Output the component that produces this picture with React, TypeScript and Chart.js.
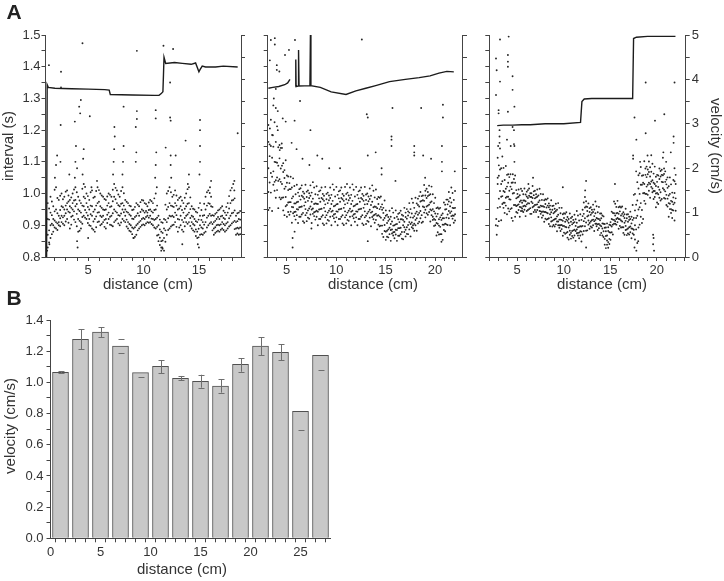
import React, { useEffect, useRef } from 'react';
import { Chart, registerables } from 'chart.js';

Chart.register(...registerables);

// ---------------- Panel A data ----------------
// Scatter: interval (s) vs distance (cm). Columns of 4 readings each (two interleaved sets) + isolated points (x,y pairs)
const p1ColX = [1.35,1.6,1.85,2.1,2.35,2.6,2.85,3.1,3.35,3.6,3.85,4.1,4.35,4.6,4.85,5.1,5.35,5.6,5.85,6.1,6.35,6.6,6.85,7.1,7.35,7.6,7.85,8.1,8.35,8.6,8.85,9.1,9.35,9.6,9.85,10.1,10.35,10.6,10.85,11.1,11.35,11.6,11.85,12.1,12.35,12.6,12.85,13.1,13.35,13.6,13.85,14.1,14.35,14.6,14.85,15.1,15.35,15.6,15.85,16.1,16.35,16.6,16.85,17.1,17.35,17.6,17.85,18.1,18.35,18.6];
const p1ColY = [
0.97,0.92,0.87,0.83, 0.99,0.94,0.90,0.86, 0.96,0.92,0.90,0.88, 1.02,0.95,0.91,0.89, 0.98,0.93,0.91,0.90,
1.00,0.96,0.93,0.91, 0.99,0.95,0.93,0.90, 1.01,0.97,0.95,0.92, 0.98,0.96,0.94,0.89, 1.00,0.97,0.95,0.93,
1.02,0.98,0.96,0.91, 0.99,0.95,0.92,0.88, 0.97,0.94,0.91,0.89, 1.03,0.99,0.96,0.93, 1.00,0.97,0.94,0.92,
0.98,0.95,0.92,0.90, 1.01,0.96,0.93,0.89, 0.99,0.95,0.92,0.88, 1.02,0.97,0.94,0.91, 1.00,0.96,0.93,0.90,
0.99,0.95,0.93,0.91, 0.98,0.95,0.92,0.89, 1.00,0.97,0.94,0.92, 0.99,0.96,0.93,0.90, 1.03,0.99,0.95,0.91,
1.01,0.97,0.94,0.92, 0.99,0.96,0.93,0.90, 1.02,0.97,0.95,0.92, 0.98,0.95,0.93,0.91, 0.97,0.94,0.91,0.89,
0.96,0.93,0.90,0.88, 0.95,0.92,0.89,0.86, 0.97,0.93,0.90,0.87, 0.96,0.93,0.91,0.89, 0.98,0.95,0.92,0.90,
0.97,0.94,0.92,0.90, 0.96,0.94,0.93,0.91, 0.98,0.95,0.93,0.91, 0.97,0.94,0.92,0.90, 1.00,0.95,0.92,0.89,
0.93,0.90,0.87,0.85, 0.91,0.88,0.85,0.83, 0.92,0.89,0.86,0.82, 1.00,0.95,0.91,0.87, 1.02,0.97,0.93,0.89,
0.99,0.96,0.93,0.90, 1.01,0.97,0.94,0.91, 0.98,0.95,0.92,0.88, 0.99,0.96,0.93,0.90, 0.97,0.94,0.91,0.88,
1.00,0.96,0.93,0.91, 1.02,0.97,0.94,0.91, 0.96,0.93,0.91,0.89, 0.95,0.92,0.90,0.88, 0.94,0.91,0.88,0.86,
0.97,0.93,0.90,0.87, 0.93,0.91,0.89,0.87, 0.99,0.95,0.91,0.88, 1.01,0.97,0.93,0.90, 0.99,0.96,0.93,0.91,
0.93,0.91,0.89,0.87, 0.94,0.92,0.90,0.88, 0.95,0.92,0.90,0.88, 0.96,0.93,0.91,0.89, 0.94,0.92,0.90,0.88,
0.97,0.94,0.91,0.89, 1.01,0.97,0.93,0.90, 1.03,0.98,0.94,0.91, 0.93,0.91,0.89,0.87, 0.94,0.92,0.89,0.87
];
const p1ColX2 = [1.475,1.725,1.975,2.225,2.475,2.725,2.975,3.225,3.475,3.725,3.975,4.225,4.475,4.725,4.975,5.225,5.475,5.725,5.975,6.225,6.475,6.725,6.975,7.225,7.475,7.725,7.975,8.225,8.475,8.725,8.975,9.225,9.475,9.725,9.975,10.225,10.475,10.725,10.975,11.225,11.475,11.725,11.975,12.225,12.475,12.725,12.975,13.225,13.475,13.725,13.975,14.225,14.475,14.725,14.975,15.225,15.475,15.725,15.975,16.225,16.475,16.725,16.975,17.225,17.475,17.725,17.975,18.225,18.475,18.725];
const p1ColY2 = [
0.953,0.918,0.884,0.846, 0.975,0.932,0.905,0.872, 1.012,0.944,0.915,0.893, 0.986,0.938,0.906,0.885, 0.993,0.948,0.922,0.897,
0.982,0.957,0.925,0.905, 1.006,0.962,0.938,0.912, 0.994,0.975,0.943,0.908, 0.988,0.955,0.927,0.902, 1.013,0.978,0.944,0.918,
1.004,0.967,0.936,0.897, 0.978,0.945,0.914,0.883, 1.015,0.962,0.926,0.905, 1.021,0.985,0.948,0.924, 0.992,0.958,0.931,0.907,
1.004,0.962,0.935,0.898, 0.987,0.943,0.912,0.886, 1.008,0.962,0.928,0.894, 1.011,0.974,0.941,0.912, 0.994,0.955,0.926,0.904,
0.983,0.948,0.917,0.895, 0.991,0.962,0.933,0.907, 0.996,0.958,0.927,0.902, 1.012,0.976,0.938,0.897, 1.018,0.982,0.944,0.915,
0.997,0.963,0.932,0.906, 1.008,0.968,0.937,0.909, 1.001,0.962,0.941,0.914, 0.974,0.943,0.918,0.896, 0.962,0.934,0.904,0.883,
0.948,0.921,0.893,0.872, 0.958,0.926,0.894,0.864, 0.965,0.938,0.905,0.884, 0.973,0.942,0.914,0.895, 0.978,0.946,0.923,0.903,
0.967,0.945,0.926,0.906, 0.972,0.948,0.924,0.908, 0.976,0.944,0.921,0.904, 0.985,0.948,0.917,0.893, 0.962,0.924,0.895,0.868,
0.918,0.887,0.861,0.838, 0.908,0.876,0.852,0.826, 0.965,0.917,0.884,0.848, 1.008,0.958,0.922,0.885, 1.004,0.962,0.928,0.896,
0.996,0.958,0.926,0.902, 0.994,0.962,0.932,0.895, 0.986,0.953,0.918,0.893, 0.978,0.948,0.917,0.886, 0.987,0.952,0.923,0.897,
1.014,0.968,0.934,0.905, 0.988,0.951,0.923,0.898, 0.952,0.927,0.904,0.884, 0.943,0.913,0.887,0.866, 0.955,0.918,0.889,0.862,
0.948,0.917,0.893,0.872, 0.968,0.932,0.902,0.876, 1.004,0.962,0.924,0.893, 1.002,0.968,0.936,0.906, 0.958,0.932,0.904,0.884,
0.936,0.914,0.894,0.876, 0.947,0.926,0.902,0.883, 0.955,0.928,0.903,0.886, 0.946,0.923,0.904,0.885, 0.958,0.932,0.906,0.884,
0.992,0.953,0.922,0.896, 1.018,0.978,0.938,0.906, 0.985,0.947,0.914,0.888, 0.938,0.913,0.892,0.874, 0.945,0.918,0.893,0.872
];
const p1Extra = [
1.46,1.405, 2.55,1.384, 4.49,1.474, 9.4,1.45, 11.8,1.466, 12.67,1.456,
2.55,1.335, 4.34,1.295, 4.19,1.274, 4.28,1.253, 3.8,1.227, 2.52,1.216, 5.15,1.244, 7.37,1.21, 8.2,1.274,
9.4,1.26, 9.4,1.235, 9.3,1.21, 11.1,1.263, 11.1,1.237, 12.4,1.35, 12.4,1.24, 12.45,1.23, 13.8,1.167,
15.1,1.232, 15.1,1.2, 18.5,1.19,
2.0,1.05, 2.1,1.09, 2.2,1.12, 2.5,1.10, 3.3,1.06, 3.8,1.05, 3.85,1.10, 3.9,1.15, 4.0,1.08, 4.5,1.06,
4.55,1.11, 4.6,1.14, 5.3,1.02, 5.8,1.04, 7.25,1.06, 7.3,1.10, 7.35,1.14, 7.4,1.18, 8.1,1.06, 8.15,1.10,
8.2,1.15, 9.3,1.10, 9.35,1.13, 11.05,1.05, 11.1,1.09, 11.15,1.13, 11.2,1.02, 12.0,1.145, 12.45,1.12,
12.45,1.09, 12.9,1.12, 12.5,1.05, 14.0,1.03, 14.1,1.06, 15.05,1.06, 15.1,1.10, 15.1,1.15, 16.0,1.02,
16.1,1.04, 18.2,1.04, 18.2,1.01,
1.3,0.82, 1.5,0.84, 4.0,0.85, 4.05,0.83, 9.1,0.86, 11.6,0.82, 11.7,0.83, 13.5,0.84, 15.0,0.83, 14.9,0.84, 5.0,0.86
];
// Line: velocity (cm/s)
const p1LineX = [1.25,1.3,1.4,2.0,3.5,5.0,6.5,6.9,7.0,9.0,11.0,11.4,11.6,11.75,11.8,11.85,12.0,12.8,13.5,14.3,14.7,15.0,15.1,15.3,15.6,16.5,17.2,18.5];
const p1LineV = [0,3.88,3.82,3.80,3.79,3.78,3.77,3.76,3.66,3.65,3.64,3.64,3.68,3.72,4.10,4.50,4.36,4.38,4.36,4.34,4.37,4.17,4.22,4.30,4.28,4.28,4.30,4.28];

const p2ColX = [3.15,3.4,3.65,3.9,4.15,4.4,4.65,4.9,5.15,5.4,5.65,5.9,6.15,6.4,6.65,6.9,7.15,7.4,7.65,7.9,8.15,8.4,8.65,8.9,9.15,9.4,9.65,9.9,10.15,10.4,10.65,10.9,11.15,11.4,11.65,11.9,12.15,12.4,12.65,12.9,13.15,13.4,13.65,13.9,14.15,14.4,14.65,14.9,15.15,15.4,15.65,15.9,16.15,16.4,16.65,16.9,17.15,17.4,17.65,17.9,18.15,18.4,18.65,18.9,19.15,19.4,19.65,19.9,20.15,20.4,20.65,20.9,21.15,21.4,21.65,21.9];
const p2ColY = [
1.163,1.080,1.005,0.948, 1.150,1.065,1.003,1.233, 1.278,1.148,1.070,1.028, 0.987,1.099,1.163,1.042, 1.146,1.040,1.088,0.954,
1.079,1.144,0.982,1.037, 0.988,1.068,0.947,1.096, 1.022,0.960,1.105,0.989, 1.054,1.011,0.972,0.942, 1.014,0.973,0.943,1.053,
1.048,0.991,0.957,0.938, 0.918,0.969,0.998,0.943, 1.003,0.950,0.974,0.907, 0.981,1.017,0.927,0.958, 0.939,0.989,0.913,1.006,
0.973,0.932,1.028,0.951, 1.010,0.977,0.947,0.924, 0.993,0.959,0.934,1.026, 1.036,0.984,0.953,0.936, 0.918,0.969,0.998,0.943,
0.996,0.943,0.967,0.900, 0.974,1.010,0.920,0.951, 0.932,0.982,0.906,0.999, 0.966,0.925,1.021,0.944, 1.003,0.970,0.940,0.917,
0.986,0.952,0.927,1.019, 1.029,0.977,0.946,0.929, 0.911,0.962,0.991,0.936, 0.996,0.943,0.967,0.900, 0.974,1.010,0.920,0.951,
0.932,0.982,0.906,0.999, 0.966,0.925,1.021,0.944, 1.003,0.970,0.940,0.917, 0.986,0.952,0.927,1.019, 1.029,0.977,0.946,0.929,
0.911,0.962,0.991,0.936, 0.996,0.943,0.967,0.900, 0.974,1.010,0.920,0.951, 0.932,0.982,0.906,0.999, 0.966,0.925,1.021,0.944,
1.000,0.967,0.937,0.914, 0.983,0.949,0.924,1.016, 1.026,0.974,0.943,0.926, 0.908,0.959,0.988,0.933, 0.983,0.930,0.954,0.887,
0.951,0.987,0.897,0.928, 0.899,0.949,0.873,0.966, 0.923,0.882,0.978,0.901, 0.933,0.907,0.883,0.864, 0.919,0.892,0.872,0.946,
0.954,0.912,0.887,0.874, 0.859,0.900,0.923,0.879, 0.927,0.885,0.904,0.851, 0.910,0.939,0.867,0.891, 0.879,0.919,0.858,0.933,
0.911,0.879,0.955,0.894, 0.951,0.921,0.894,0.873, 0.940,0.910,0.887,0.970, 0.984,0.937,0.909,0.894, 0.883,0.929,0.955,0.905,
0.969,0.922,0.943,0.883, 0.959,0.992,0.911,0.939, 0.932,0.977,0.908,0.992, 0.977,0.940,1.027,0.957, 1.015,0.986,0.959,0.938,
0.995,0.965,0.942,1.025, 1.022,0.975,0.947,0.932, 0.898,0.944,0.970,0.920, 0.954,0.907,0.928,0.868, 0.919,0.952,0.871,0.899,
0.872,0.917,0.848,0.932, 0.922,0.885,0.972,0.902, 0.981,0.951,0.924,0.903, 0.975,0.945,0.922,1.005, 1.019,0.972,0.944,0.929,
0.908,0.954,0.980,0.930
];
const p2ColX2 = [3.275,3.525,3.775,4.025,4.275,4.525,4.775,5.025,5.275,5.525,5.775,6.025,6.275,6.525,6.775,7.025,7.275,7.525,7.775,8.025,8.275,8.525,8.775,9.025,9.275,9.525,9.775,10.025,10.275,10.525,10.775,11.025,11.275,11.525,11.775,12.025,12.275,12.525,12.775,13.025,13.275,13.525,13.775,14.025,14.275,14.525,14.775,15.025,15.275,15.525,15.775,16.025,16.275,16.525,16.775,17.025,17.275,17.525,17.775,18.025,18.275,18.525,18.775,19.025,19.275,19.525,19.775,20.025,20.275,20.525,20.775,21.025,21.275,21.525,21.775,22.025];
const p2ColY2 = [
1.035,1.155,0.955,1.118, 1.185,1.053,1.113,0.945, 1.225,1.037,1.100,1.009, 1.097,1.011,1.212,1.051, 0.988,1.045,1.111,1.153,
1.088,1.030,0.987,1.144, 1.049,0.932,1.074,1.015, 0.964,1.034,0.927,1.057, 0.973,1.033,0.933,1.014, 1.019,0.958,0.985,0.908,
1.024,0.942,0.969,0.929, 0.973,0.932,1.028,0.951, 0.927,0.957,0.992,1.014, 0.993,0.959,0.934,1.026, 0.984,0.908,1.000,0.962,
0.939,0.989,0.913,1.006, 0.953,1.001,0.921,0.986, 1.003,0.950,0.974,0.907, 1.019,0.941,0.967,0.929, 0.968,0.927,1.023,0.946,
0.920,0.950,0.985,1.007, 0.986,0.952,0.927,1.019, 0.977,0.901,0.993,0.955, 0.932,0.982,0.906,0.999, 0.946,0.994,0.914,0.979,
0.996,0.943,0.967,0.900, 1.012,0.934,0.960,0.922, 0.966,0.925,1.021,0.944, 0.920,0.950,0.985,1.007, 0.986,0.952,0.927,1.019,
0.977,0.901,0.993,0.955, 0.932,0.982,0.906,0.999, 0.946,0.994,0.914,0.979, 0.996,0.943,0.967,0.900, 1.012,0.934,0.960,0.922,
0.966,0.925,1.021,0.944, 0.920,0.950,0.985,1.007, 0.986,0.952,0.927,1.019, 0.977,0.901,0.993,0.955, 0.930,0.980,0.904,0.997,
0.943,0.991,0.911,0.976, 0.993,0.940,0.964,0.897, 1.009,0.931,0.957,0.919, 0.958,0.917,1.013,0.936, 0.902,0.932,0.967,0.989,
0.958,0.924,0.899,0.991, 0.939,0.863,0.955,0.917, 0.880,0.930,0.854,0.947, 0.887,0.926,0.862,0.914, 0.927,0.885,0.904,0.851,
0.940,0.878,0.899,0.868, 0.903,0.871,0.947,0.886, 0.867,0.891,0.919,0.936, 0.919,0.892,0.872,0.946, 0.917,0.856,0.930,0.900,
0.886,0.926,0.865,0.940, 0.901,0.944,0.872,0.931, 0.951,0.904,0.925,0.865, 0.971,0.900,0.924,0.890, 0.937,0.900,0.987,0.917,
0.906,0.933,0.964,0.984, 0.975,0.945,0.922,1.005, 0.979,0.911,0.994,0.959, 0.949,0.994,0.925,1.009, 0.962,1.005,0.933,0.992,
0.998,0.950,0.972,0.912, 0.998,0.927,0.951,0.917, 0.937,0.900,0.987,0.917, 0.878,0.905,0.936,0.956, 0.925,0.895,0.872,0.955,
0.922,0.854,0.937,0.902, 0.905,0.950,0.881,0.965, 0.934,0.981,0.901,0.966, 0.986,0.939,0.960,0.900, 1.002,0.931,0.955,0.921,
0.955,0.915,1.008,0.935
];
const p2Extra = [
3.4,1.484, 3.8,1.49, 3.8,1.47, 3.3,1.42, 5.84,1.484, 5.23,1.453, 4.83,1.437, 4.0,1.405, 4.0,1.39, 4.26,1.385,
3.9,1.33, 3.7,1.30, 3.9,1.27, 4.1,1.26, 4.6,1.237, 4.9,1.227, 5.8,1.23, 6.35,1.292, 7.4,1.20, 3.15,1.216,
3.3,1.205, 3.6,1.184, 4.1,1.20, 4.5,1.158, 4.3,1.137, 5.5,1.16, 6.0,1.14, 6.6,1.11, 7.3,1.09, 8.1,1.12,
8.6,1.11, 9.3,1.08, 10.4,1.08, 11.1,1.03, 5.6,0.86, 5.6,0.83, 5.8,0.88, 7.5,0.89,
12.6,1.486, 13.1,1.25, 13.2,1.24, 15.7,1.27, 15.6,1.18, 15.6,1.17, 15.6,1.15, 18.6,1.27, 20.8,1.28, 20.8,1.24,
13.2,1.12, 14.0,1.13, 17.9,1.15, 17.9,1.13, 17.9,1.12, 18.8,1.12, 19.6,1.11, 20.7,1.15, 20.7,1.10, 20.7,1.07,
22.0,1.07, 14.6,1.08, 14.6,1.06, 13.2,0.85, 16.0,1.04, 19.0,1.05
];
const p2LineX = [3.15,3.6,4.2,4.8,5.1,5.33,5.6,5.9,5.92,5.95,6.15,6.2,6.25,7.35,7.4,7.45,8.4,9.5,11.0,12.0,13.0,14.0,15.4,17.0,18.4,19.5,20.4,21.2,21.9];
const p2LineV = [3.80,3.82,3.84,3.88,3.92,4.00,null,3.84,4.45,3.84,3.85,4.66,3.85,3.86,5.0,3.86,3.82,3.72,3.66,3.74,3.80,3.86,3.95,4.00,4.04,4.08,4.14,4.18,4.17];

const p3ColX = [2.9,3.15,3.4,3.65,3.9,4.15,4.4,4.65,4.9,5.15,5.4,5.65,5.9,6.15,6.4,6.65,6.9,7.15,7.4,7.65,7.9,8.15,8.4,8.65,8.9,9.15,9.4,9.65,9.9,10.15,10.4,10.65,10.9,11.15,11.4,11.65,11.9,12.15,12.4,12.65,12.9,13.15,13.4,13.65,13.9,14.15,14.4,14.65,14.9,15.15,15.4,15.65,15.9,16.15,16.4,16.65,16.9,17.15,17.4,17.65,17.9,18.15,18.4,18.65,18.9,19.15,19.4,19.65,19.9,20.15,20.4,20.65,20.9,21.15,21.4,21.65,21.9];
const p3ColY = [
1.113,1.030,0.955,0.898, 1.076,1.008,0.958,1.142, 1.117,1.039,0.992,0.967, 0.939,1.005,1.043,0.971, 1.059,0.990,1.022,0.935,
1.009,1.052,0.944,0.982, 0.954,1.014,0.923,1.034, 1.046,0.964,1.156,1.002, 1.011,0.985,0.961,0.942, 0.990,0.966,0.948,1.013,
1.015,0.978,0.957,0.945, 0.942,0.978,0.998,0.960, 0.997,0.960,0.976,0.929, 0.986,1.011,0.948,0.970, 0.954,0.989,0.936,1.001,
0.986,0.957,1.024,0.970, 1.009,0.985,0.964,0.948, 0.990,0.966,0.948,1.013, 1.015,0.978,0.957,0.945, 0.924,0.960,0.980,0.942,
0.979,0.942,0.958,0.911, 0.956,0.981,0.918,0.940, 0.922,0.957,0.904,0.969, 0.941,0.912,0.979,0.925, 0.962,0.938,0.917,0.901,
0.945,0.921,0.903,0.968, 0.970,0.933,0.912,0.900, 0.882,0.918,0.938,0.900, 0.935,0.898,0.914,0.867, 0.911,0.936,0.873,0.895,
0.879,0.914,0.861,0.926, 0.899,0.870,0.937,0.883, 0.927,0.903,0.882,0.866, 0.910,0.886,0.868,0.933, 0.945,0.908,0.887,0.875,
0.859,0.895,0.915,0.877, 0.917,0.880,0.896,0.849, 0.936,0.972,0.882,0.913, 0.909,0.959,0.883,0.976, 0.931,0.902,0.969,0.915,
0.957,0.933,0.912,0.896, 0.942,0.918,0.900,0.965, 0.975,0.938,0.917,0.905, 0.885,0.921,0.941,0.903, 0.937,0.900,0.916,0.869,
0.906,0.931,0.868,0.890, 0.857,0.892,0.839,0.904, 0.868,0.839,0.906,0.852, 0.902,0.878,0.857,0.841, 0.920,0.896,0.878,0.943,
0.975,0.938,0.917,0.905, 0.902,0.938,0.958,0.920, 0.957,0.920,0.936,0.889, 0.931,0.956,0.893,0.915, 0.894,0.929,0.876,0.941,
0.914,0.885,0.952,0.898, 0.935,0.911,0.890,0.874, 0.920,0.896,0.878,0.943, 0.964,0.917,0.889,0.874, 0.855,0.947,0.999,0.900,
1.036,0.930,0.978,0.844, 0.999,1.064,0.902,0.957, 0.948,1.028,0.907,1.056, 1.030,0.977,1.102,1.002, 1.085,1.052,1.022,0.999,
1.068,1.034,1.009,1.101, 1.121,1.069,1.038,1.021, 0.983,1.034,1.063,1.008, 1.053,1.000,1.024,0.957, 1.021,1.057,0.967,0.998,
1.004,1.054,0.978,1.071, 1.058,1.017,1.113,1.036, 1.070,1.037,1.007,0.984, 1.018,0.984,0.959,1.051, 1.051,0.999,0.968,0.951,
0.923,0.974,1.003,0.948, 1.039,0.971,1.002,0.915
];
const p3ColX2 = [3.025,3.275,3.525,3.775,4.025,4.275,4.525,4.775,5.025,5.275,5.525,5.775,6.025,6.275,6.525,6.775,7.025,7.275,7.525,7.775,8.025,8.275,8.525,8.775,9.025,9.275,9.525,9.775,10.025,10.275,10.525,10.775,11.025,11.275,11.525,11.775,12.025,12.275,12.525,12.775,13.025,13.275,13.525,13.775,14.025,14.275,14.525,14.775,15.025,15.275,15.525,15.775,16.025,16.275,16.525,16.775,17.025,17.275,17.525,17.775,18.025,18.275,18.525,18.775,19.025,19.275,19.525,19.775,20.025,20.275,20.525,20.775,21.025,21.275,21.525,21.775,22.025];
const p3ColY2 = [
0.984,1.089,0.913,1.056, 1.080,0.990,1.030,0.916, 1.081,0.971,1.008,0.955, 1.015,0.962,1.087,0.987, 0.953,0.990,1.034,1.061,
1.022,0.981,0.951,1.061, 1.035,0.914,1.061,1.000, 0.964,1.034,0.927,1.057, 0.963,0.999,0.939,0.988, 0.995,0.958,0.974,0.927,
1.008,0.953,0.971,0.945, 0.978,0.949,1.016,0.962, 0.945,0.966,0.991,1.006, 0.993,0.969,0.951,1.016, 0.989,0.936,1.001,0.974,
0.960,0.995,0.942,1.007, 0.965,0.998,0.942,0.988, 0.994,0.957,0.973,0.926, 0.999,0.944,0.962,0.936, 0.960,0.931,0.998,0.944,
0.921,0.942,0.967,0.982, 0.962,0.938,0.920,0.985, 0.950,0.897,0.962,0.935, 0.914,0.949,0.896,0.961, 0.919,0.952,0.896,0.942,
0.949,0.912,0.928,0.881, 0.955,0.900,0.918,0.892, 0.917,0.888,0.955,0.901, 0.877,0.898,0.923,0.938, 0.918,0.894,0.876,0.941,
0.908,0.855,0.920,0.893, 0.876,0.911,0.858,0.923, 0.884,0.917,0.861,0.907, 0.919,0.882,0.898,0.851, 0.931,0.876,0.894,0.868,
0.897,0.868,0.935,0.881, 0.871,0.898,0.929,0.949, 0.956,0.922,0.897,0.989, 0.945,0.884,0.958,0.928, 0.907,0.942,0.889,0.954,
0.916,0.949,0.893,0.939, 0.950,0.913,0.929,0.882, 0.960,0.905,0.923,0.897, 0.920,0.891,0.958,0.904, 0.876,0.897,0.922,0.937,
0.905,0.881,0.863,0.928, 0.881,0.828,0.893,0.866, 0.847,0.882,0.829,0.894, 0.877,0.910,0.854,0.900, 0.939,0.902,0.918,0.871,
0.968,0.913,0.931,0.905, 0.939,0.910,0.977,0.923, 0.898,0.919,0.944,0.959, 0.936,0.912,0.894,0.959, 0.923,0.870,0.935,0.908,
0.887,0.922,0.869,0.934, 0.894,0.927,0.871,0.917, 0.927,0.890,0.906,0.859, 0.996,0.886,0.923,0.870, 0.965,0.887,1.070,0.923,
0.893,0.950,1.016,1.058, 1.028,0.970,0.927,1.084, 1.034,0.920,1.058,1.001, 0.999,1.059,0.968,1.079, 1.028,1.076,0.996,1.061,
1.083,1.030,1.054,0.987, 1.094,1.016,1.042,1.004, 1.030,0.989,1.085,1.008, 0.972,1.002,1.037,1.059, 1.046,1.012,0.987,1.079,
1.059,0.983,1.075,1.037, 1.012,1.062,0.986,1.079, 0.996,1.044,0.964,1.029, 1.023,0.970,0.994,0.927, 1.029,0.951,0.977,0.939,
0.988,0.947,1.043,0.966, 0.946,0.985,1.030,1.059
];
const p3Extra = [
3.15,1.486, 4.08,1.495, 2.72,1.426, 2.79,1.389, 3.15,1.353, 2.72,1.311, 4.0,1.437, 4.0,1.416, 4.0,1.40, 4.5,1.37,
4.5,1.327, 3.0,1.263, 3.0,1.253, 4.0,1.258, 4.7,1.274, 3.1,1.20, 3.1,1.18, 3.1,1.16, 3.9,1.17, 4.5,1.21,
4.3,1.15, 4.7,1.15, 4.65,1.20, 4.7,1.10, 2.9,1.05, 2.95,1.15, 2.7,0.90, 2.75,0.92, 2.8,0.87, 12.4,0.83,
6.7,1.05, 6.2,1.03, 9.9,1.02, 12.3,1.01, 12.4,1.04,
17.6,1.24, 18.8,1.35, 21.9,1.35, 20.8,1.25, 19.8,1.23, 18.8,1.19, 17.8,1.17, 17.45,1.12, 17.45,1.11, 21.8,1.18,
21.8,1.16, 20.7,1.13, 21.5,1.13, 17.6,0.83, 17.8,0.82, 19.6,0.84, 19.7,0.82, 19.6,0.87, 19.65,0.86, 15.5,1.03,
18.0,0.85, 18.2,1.10, 19.0,1.12, 21.0,1.10, 21.9,1.08
];
const p3LineX = [2.85,3.5,4.5,5.5,6.4,8.0,10.0,11.8,11.95,12.2,13.0,15.0,17.4,17.5,17.8,19.0,20.0,22.0];
const p3LineV = [2.96,2.97,2.97,2.98,2.98,3.00,3.00,3.03,3.50,3.56,3.57,3.57,3.57,4.92,4.95,4.97,4.97,4.97];

// ---------------- Panel B data ----------------
const barDistance = [1,3,5,7,9,11,13,15,17,19,21,23,25,27];
const barVelocity = [1.065,1.276,1.323,1.233,1.062,1.103,1.026,1.007,0.977,1.116,1.233,1.193,0.814,1.174];
const barErrHigh = [1.070,1.342,1.353,1.278,null,1.143,1.041,1.049,1.020,1.156,1.289,1.244,null,null];
const barErrLow = [1.058,1.212,1.289,1.186,1.032,1.058,1.013,0.966,0.934,1.068,1.174,1.142,0.695,1.077];
const barErrStem = [1,1,1,0,0,1,1,1,1,1,1,1,0,0];

// tick labels
const intervalLabels = [0.8,0.9,1.0,1.1,1.2,1.3,1.4,1.5];
const velocityLabels = [0,1,2,3,4,5];
const distanceLabelsA = [5,10,15,20];
const velocityLabelsB = [0,0.2,0.4,0.6,0.8,1.0,1.2,1.4];
const distanceLabelsB = [0,5,10,15,20,25];

// ---------------- helpers ----------------
const FONT = '"Liberation Sans", Arial, Helvetica, sans-serif';
const INK = '#333';
const AXIS = '#444';

function buildScatter(sets: [number[], number[]][], extra: number[]) {
  const pts: { x: number; y: number }[] = [];
  sets.forEach(([colX, colY]) => {
    colX.forEach((x, i) => {
      for (let k = 0; k < 4; k++) {
        const y = colY[i * 4 + k];
        if (y !== undefined) pts.push({ x, y });
      }
    });
  });
  for (let i = 0; i + 1 < extra.length; i += 2) pts.push({ x: extra[i], y: extra[i + 1] });
  return pts;
}

function buildLine(xs: number[], vs: (number | null)[]) {
  return xs.map((x, i) => ({ x, y: vs[i] }));
}

function tickMarks(min: number, max: number, step: number) {
  const out: number[] = [];
  const start = Math.ceil(min / step - 1e-9) * step;
  for (let v = start; v <= max + 1e-9; v += step) out.push(Math.round(v * 1000) / 1000);
  return out;
}

function inList(v: number, list: number[]) {
  return list.some((l) => Math.abs(l - v) < 1e-6);
}

const freeText = {
  id: 'freeText',
  afterDraw(chart: any, _args: any, opts: any) {
    const ctx = chart.ctx;
    (opts.items || []).forEach((it: any) => {
      ctx.save();
      ctx.translate(it.x, it.y);
      ctx.rotate(it.rot || 0);
      ctx.font = it.font;
      ctx.fillStyle = it.color || INK;
      ctx.textAlign = 'center';
      ctx.textBaseline = 'middle';
      ctx.fillText(it.text, 0, 0);
      ctx.restore();
    });
  },
};

const errorBars = {
  id: 'errorBars',
  afterDatasetsDraw(chart: any) {
    const ctx = chart.ctx;
    const xs = chart.scales.x;
    const ys = chart.scales.y;
    ctx.save();
    ctx.strokeStyle = '#6e6e6e';
    ctx.lineWidth = 1;
    barDistance.forEach((d, i) => {
      const px = Math.round(xs.getPixelForValue(d)) + 0.5;
      const hi = barErrHigh[i];
      const lo = barErrLow[i];
      const cap = (v: number) => {
        const py = Math.round(ys.getPixelForValue(v)) + 0.5;
        ctx.beginPath();
        ctx.moveTo(px - 3, py);
        ctx.lineTo(px + 3, py);
        ctx.stroke();
      };
      if (hi !== null) cap(hi);
      if (lo !== null) cap(lo);
      if (barErrStem[i] && hi !== null && lo !== null) {
        ctx.beginPath();
        ctx.moveTo(px, ys.getPixelForValue(hi));
        ctx.lineTo(px, ys.getPixelForValue(lo));
        ctx.stroke();
      }
    });
    ctx.restore();
  },
};

function axisCommon(marks: number[], labels: number[] | null, fmt: (v: number) => string, padding: number) {
  return {
    grid: { display: true, drawOnChartArea: false, drawTicks: true, tickLength: 4, tickColor: AXIS, tickWidth: 1 },
    border: { display: true, color: AXIS, width: 1 },
    afterBuildTicks: (scale: any) => {
      scale.ticks = marks.map((v) => ({ value: v }));
    },
    ticks: {
      autoSkip: false,
      maxRotation: 0,
      minRotation: 0,
      padding,
      color: INK,
      font: { family: FONT, size: 13 },
      callback: (value: any) => (labels && inList(Number(value), labels) ? fmt(Number(value)) : ''),
    },
  };
}

function fixY(w: number) {
  return (scale: any) => {
    scale.width = w;
    scale.paddingTop = 0;
    scale.paddingBottom = 0;
  };
}
function fixX(h: number) {
  return (scale: any) => {
    scale.height = h;
    scale.paddingLeft = 0;
    scale.paddingRight = 0;
  };
}

type PanelSpec = {
  pad: { left: number; right: number; top: number; bottom: number };
  leftW: number;
  rightW: number;
  xMin: number;
  xMax: number;
  leftLabels: boolean;
  rightLabels: boolean;
  scatter: { x: number; y: number }[];
  line: { x: number; y: number | null }[];
  texts: any[];
};

function panelConfig(s: PanelSpec): any {
  return {
    type: 'scatter',
    data: {
      datasets: [
        {
          data: s.scatter,
          xAxisID: 'x',
          yAxisID: 'y',
          pointRadius: 0.95,
          pointBackgroundColor: '#262626',
          pointBorderWidth: 0,
          showLine: false,
        },
        {
          data: s.line,
          xAxisID: 'x',
          yAxisID: 'v',
          showLine: true,
          spanGaps: false,
          borderColor: '#1c1c1c',
          borderWidth: 1.4,
          pointRadius: 0,
          tension: 0,
        },
      ],
    },
    options: {
      responsive: false,
      animation: false,
      devicePixelRatio: 1,
      events: [],
      layout: { padding: s.pad, autoPadding: false },
      plugins: { legend: { display: false }, tooltip: { enabled: false }, freeText: { items: s.texts } },
      scales: {
        x: {
          type: 'linear',
          position: 'bottom',
          min: s.xMin,
          max: s.xMax,
          afterFit: fixX(37),
          ...axisCommon(tickMarks(s.xMin, s.xMax, 1), distanceLabelsA, (v) => String(v), 2),
        },
        y: {
          type: 'linear',
          position: 'left',
          min: 0.8,
          max: 1.5,
          afterFit: fixY(s.leftW),
          ...axisCommon(tickMarks(0.8, 1.5, 0.05), s.leftLabels ? intervalLabels : null, (v) => v.toFixed(1), 1),
        },
        v: {
          type: 'linear',
          position: 'right',
          min: 0,
          max: 5,
          afterFit: fixY(s.rightW),
          ...axisCommon(tickMarks(0, 5, 0.5), s.rightLabels ? velocityLabels : null, (v) => String(v), 2),
        },
      },
    },
    plugins: [freeText],
  };
}

const TITLE_FONT = `15px ${FONT}`;
const LETTER_FONT = `bold 21px ${FONT}`;

function configs(): any[] {
  const a1 = panelConfig({
    pad: { left: 0, right: 477, top: 35, bottom: 287 },
    leftW: 45.5,
    rightW: 6,
    xMin: 1.15,
    xMax: 18.8,
    leftLabels: true,
    rightLabels: false,
    scatter: buildScatter([[p1ColX, p1ColY], [p1ColX2, p1ColY2]], p1Extra),
    line: buildLine(p1LineX, p1LineV),
    texts: [
      { text: 'A', x: 14, y: 13, font: LETTER_FONT, color: '#222' },
      { text: 'interval (s)', x: 9, y: 146, rot: -Math.PI / 2, font: TITLE_FONT },
      { text: 'distance (cm)', x: 148, y: 285, font: TITLE_FONT },
    ],
  });
  const a2 = panelConfig({
    pad: { left: 261.7, right: 255, top: 35, bottom: 287 },
    leftW: 6,
    rightW: 6,
    xMin: 3.08,
    xMax: 22.83,
    leftLabels: false,
    rightLabels: false,
    scatter: buildScatter([[p2ColX, p2ColY], [p2ColX2, p2ColY2]], p2Extra),
    line: buildLine(p2LineX, p2LineV),
    texts: [{ text: 'distance (cm)', x: 373, y: 285, font: TITLE_FONT }],
  });
  const a3 = panelConfig({
    pad: { left: 483.3, right: 0, top: 35, bottom: 287 },
    leftW: 6,
    rightW: 38.3,
    xMin: 2.0,
    xMax: 23.1,
    leftLabels: false,
    rightLabels: true,
    scatter: buildScatter([[p3ColX, p3ColY], [p3ColX2, p3ColY2]], p3Extra),
    line: buildLine(p3LineX, p3LineV),
    texts: [
      { text: 'distance (cm)', x: 602, y: 285, font: TITLE_FONT },
      { text: 'velocity (cm/s)', x: 715, y: 146, rot: Math.PI / 2, font: TITLE_FONT },
    ],
  });
  const b = {
    type: 'bar',
    data: {
      datasets: [
        {
          data: barDistance.map((x, i) => ({ x, y: barVelocity[i] })),
          backgroundColor: '#c8c8c8',
          borderColor: '#505050',
          borderWidth: 1,
          barThickness: 16,
        },
      ],
    },
    options: {
      responsive: false,
      animation: false,
      devicePixelRatio: 1,
      events: [],
      layout: { padding: { left: 0, right: 393.5, top: 320, bottom: 2 }, autoPadding: false },
      plugins: {
        legend: { display: false },
        tooltip: { enabled: false },
        freeText: {
          items: [
            { text: 'B', x: 14, y: 299, font: LETTER_FONT, color: '#222' },
            { text: 'velocity (cm/s)', x: 11, y: 426, rot: -Math.PI / 2, font: TITLE_FONT },
            { text: 'distance (cm)', x: 182, y: 570, font: TITLE_FONT },
          ],
        },
      },
      scales: {
        x: {
          type: 'linear',
          position: 'bottom',
          min: 0,
          max: 28,
          offset: false,
          afterFit: fixX(40.7),
          ...axisCommon(tickMarks(0, 28, 1), distanceLabelsB, (v) => String(v), 2),
        },
        y: {
          type: 'linear',
          position: 'left',
          min: 0,
          max: 1.4,
          afterFit: fixY(50.5),
          ...axisCommon(tickMarks(0, 1.4, 0.1), velocityLabelsB, (v) => v.toFixed(1), 3),
        },
      },
    },
    plugins: [freeText, errorBars],
  };
  return [a1, a2, a3, b];
}

function ChartLayer({ index }: { index: number }) {
  const ref = useRef<HTMLCanvasElement | null>(null);
  useEffect(() => {
    if (!ref.current) return;
    const chart = new Chart(ref.current, configs()[index]);
    return () => chart.destroy();
  }, [index]);
  return (
    <canvas
      ref={ref}
      width={724}
      height={581}
      style={{ position: 'absolute', left: 0, top: 0, width: 724, height: 581 }}
    />
  );
}

export default function App() {
  return (
    <div style={{ position: 'absolute', left: 0, top: 0, width: 724, height: 581, background: '#ffffff', overflow: 'hidden' }}>
      <ChartLayer index={0} />
      <ChartLayer index={1} />
      <ChartLayer index={2} />
      <ChartLayer index={3} />
    </div>
  );
}
